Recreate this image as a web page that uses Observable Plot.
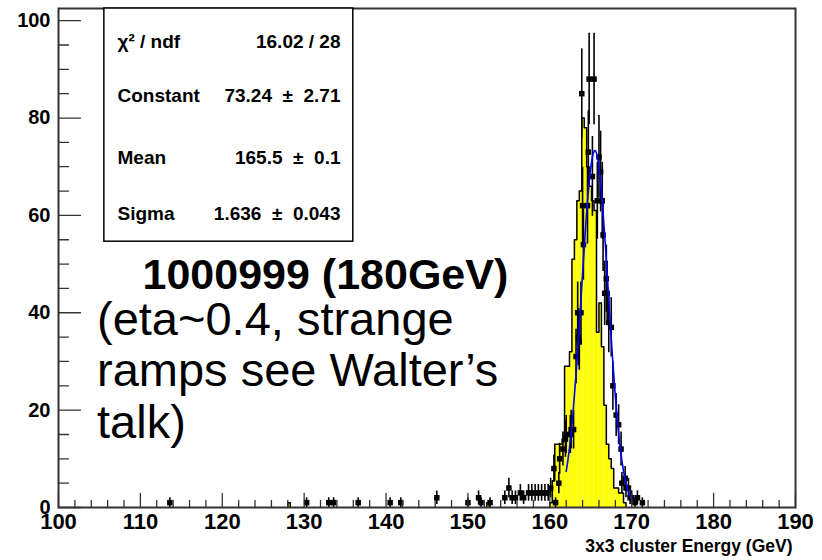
<!DOCTYPE html>
<html>
<head>
<meta charset="utf-8">
<script src="https://cdn.jsdelivr.net/npm/d3@7"></script>
<script src="https://cdn.jsdelivr.net/npm/@observablehq/plot@0.6"></script>
<style>
  html, body { margin: 0; padding: 0; background: #ffffff; }
  #chart svg { display: block; }
</style>
</head>
<body>
<div id="chart"></div>
<script>
// ---------------- data ----------------
// axis ticks
const xTicksMajor = [100, 110, 120, 130, 140, 150, 160, 170, 180, 190];
const yTicksMajor = [0, 20, 40, 60, 80, 100];

// reference histogram (yellow), bin lower edges and contents
const yellowBinWidth = 0.3;
const yellowLo = [128.0, 152.3, 160.0, 160.3, 160.6, 160.9, 161.2, 161.5, 161.8, 162.1, 162.4, 162.7,
  163.0, 163.3, 163.6, 163.9, 164.2, 164.5, 164.8, 165.1, 165.4, 165.7, 166.0, 166.3, 166.6, 166.9,
  167.2, 167.5, 167.8, 168.1, 168.4, 168.7, 169.0];
const yellowCounts = [1, 1, 1, 5.5, 13, 13, 13, 14, 29, 29, 32, 51,
  55, 63, 65, 80, 78, 70, 66, 63, 61, 36, 42, 33, 21, 13,
  10, 8, 4, 4, 3, 3, 1];

// data points (black) with errors
const dataX = [113.6, 130.3, 133.0, 133.6, 136.6, 140.5, 141.8, 146.2, 150.0, 151.3, 151.6, 152.7,
  154.5, 155.0, 155.4, 155.8, 156.4, 156.8, 157.4, 157.8, 158.2, 158.6, 159.0, 159.4, 159.8, 160.1,
  160.5, 160.7, 161.1, 161.2, 161.6, 161.9, 162.0, 162.5, 162.6, 162.9,
  163.2, 163.4, 163.5, 163.6, 163.8, 163.9, 164.0, 164.1,
  164.6, 164.7, 164.8, 165.2, 165.4, 165.8, 166.0, 166.2, 166.4, 166.5, 166.7, 166.9, 167.0, 167.2,
  167.5, 167.7, 168.1, 168.4, 168.7, 168.8, 169.2, 169.3, 169.6, 169.8, 170.0, 170.4, 170.7, 171.3];
const dataY = [1, 1, 1, 1, 1, 1, 1, 2, 1, 2, 1, 1,
  2, 4, 2, 2, 3, 2, 3, 3, 3, 3, 3, 3, 3, 4,
  8, 1, 5, 10, 12, 14, 15, 15, 16, 16,
  31, 40, 35, 34, 40, 85, 62, 54,
  62, 73, 88, 68, 88, 63, 72, 69, 63, 56, 44, 47, 44, 38,
  37, 25, 19, 17, 12, 5, 6, 4, 4, 2, 2, 1, 2, 1];
const dataErr = [1, 1, 1, 1, 1, 1, 1, 1.4, 1, 1.4, 1, 1,
  1.4, 2, 1.4, 1.4, 1.7, 1.4, 1.7, 1.7, 1.7, 1.7, 1.7, 1.7, 1.7, 2,
  2.8, 1, 2.2, 3.2, 3.5, 3.7, 3.9, 3.9, 4, 4,
  5.6, 6.3, 5.9, 5.8, 6.3, 9.2, 7.9, 7.3,
  7.9, 8.5, 9.4, 8.2, 9.4, 7.9, 8.5, 8.3, 7.9, 7.5, 6.6, 6.9, 6.6, 6.2,
  6.1, 5, 4.4, 4.1, 3.5, 2.2, 2.4, 2, 2, 1.4, 1.4, 1, 1.4, 1];

// gaussian fit curve (blue)
const fitX = [162.0, 162.4, 162.8, 163.2, 163.6, 164.0, 164.4, 164.8, 165.2, 165.6, 166.0,
  166.4, 166.8, 167.2, 167.6, 168.0, 168.4, 168.8, 169.2, 169.6, 170.0];
const fitY = [7.4, 12.2, 18.8, 27.3, 37.3, 48.1, 58.4, 66.8, 72.0, 73.2, 69.9,
  63.0, 53.4, 42.7, 32.1, 22.8, 15.2, 9.6, 5.7, 3.2, 1.7];

// texts
const statLabels = ["χ² / ndf", "Constant", "Mean", "Sigma"];
const statValues = ["16.02 / 28", "73.24\u2007±\u20072.71", "165.5\u2007±\u20070.1", "1.636\u2007±\u20070.043"];
const titleText = "1000999 (180GeV)";
const noteLines = ["(eta~0.4, strange", "ramps see Walter’s", "talk)"];
const xLabel = "3x3 cluster Energy (GeV)";

// ---------------- build ----------------
const FONT = "'Liberation Sans', Arial, Helvetica, sans-serif";
const xTicksMinor = d3.range(100, 190.001, 2).filter(v => v % 10 !== 0);
const yTicksMinor = d3.range(0, 100.001, 5).filter(v => v % 20 !== 0);

const yellow = yellowLo.map((lo, i) => ({lo, hi: lo + yellowBinWidth, c: yellowCounts[i]}));
// outline path points, grouped by contiguous runs
const outline = [];
let g = 0;
yellow.forEach((b, i) => {
  if (i > 0 && Math.abs(b.lo - yellow[i - 1].hi) > 1e-6) {
    outline.push({x: yellow[i - 1].hi, y: 0, g});
    g++;
  }
  if (i === 0 || Math.abs(b.lo - yellow[i - 1].hi) > 1e-6) outline.push({x: b.lo, y: 0, g});
  outline.push({x: b.lo, y: b.c, g});
});
outline.push({x: yellow[yellow.length - 1].hi, y: 0, g});

const points = dataX.map((x, i) => ({x, y: dataY[i], e: dataErr[i]}));
const fit = fitX.map((x, i) => ({x, y: fitY[i]}));

const tickShape = {draw(context, l) { context.moveTo(0, 0); context.lineTo(0, -l); }};
const tickStyle = {stroke: "#333", strokeWidth: 1.3, anchor: "start", shape: tickShape};

const statDy = [39.5, 93.5, 155, 211];
const statMarks = [];
statLabels.forEach((t, i) => {
  statMarks.push(Plot.text([t], {frameAnchor: "top-left", dx: 59, dy: statDy[i], lineAnchor: "bottom",
    textAnchor: "start", fontSize: 19, fontWeight: "bold", fill: "black"}));
  statMarks.push(Plot.text([statValues[i]], {frameAnchor: "top-left", dx: 282, dy: statDy[i], lineAnchor: "bottom",
    textAnchor: "end", fontSize: 19, fontWeight: "bold", fill: "black"}));
});

const noteDy = [326, 377.5, 429];
const noteMarks = noteLines.map((t, i) => Plot.text([t], {frameAnchor: "top-left", dx: 38.5, dy: noteDy[i],
  lineAnchor: "bottom", textAnchor: "start", fontSize: 47, fill: "black"}));

const chart = Plot.plot({
  width: 822,
  height: 560,
  marginLeft: 58,
  marginRight: 27,
  marginTop: 8,
  marginBottom: 53,
  style: {fontFamily: FONT, background: "#ffffff", color: "black"},
  x: {domain: [100, 190], axis: null},
  y: {domain: [0, 102.5], axis: null},
  marks: [
    // yellow reference histogram
    Plot.rectY(yellow, {x1: "lo", x2: "hi", y1: 0, y2: "c", fill: "#ffff00"}),
    Plot.line(outline, {x: "x", y: "y", z: "g", curve: "step-after", stroke: "black", strokeWidth: 1.5}),
    // data points with error bars
    Plot.ruleX(points, {x: "x", y1: d => Math.max(0, d.y - d.e), y2: d => d.y + d.e, stroke: "black", strokeWidth: 1.6}),
    Plot.dot(points, {x: "x", y: "y", symbol: "square", r: 3.1, fill: "black", stroke: null}),
    // gaussian fit
    Plot.line(fit, {x: "x", y: "y", curve: "natural", stroke: "#0000ff", strokeWidth: 1.6}),
    // frame
    Plot.frame({stroke: "#333", strokeWidth: 2}),
    // inward ticks
    Plot.vector(xTicksMajor, {x: d => d, y: 0, length: 14, rotate: 0, ...tickStyle}),
    Plot.vector(xTicksMinor, {x: d => d, y: 0, length: 7, rotate: 0, ...tickStyle}),
    Plot.vector(yTicksMajor, {x: 100, y: d => d, length: 22, rotate: 90, ...tickStyle}),
    Plot.vector(yTicksMinor, {x: 100, y: d => d, length: 10, rotate: 90, ...tickStyle}),
    // axes labels
    Plot.axisX({ticks: xTicksMajor, tickSize: 0, tickPadding: 6, fontSize: 22, fontWeight: "bold",
      tickFormat: d => String(d), label: null}),
    Plot.axisY({ticks: yTicksMajor, tickSize: 0, tickPadding: 8, fontSize: 20, fontWeight: "bold",
      tickFormat: d => String(d), label: null}),
    Plot.text([xLabel], {frameAnchor: "bottom-right", dx: -3, dy: 44, lineAnchor: "bottom", textAnchor: "end",
      fontSize: 17.5, fontWeight: "bold", fill: "black"}),
    // statistics box
    Plot.rect([0], {x1: 105.6, x2: 136.0, y1: 54.6, y2: 102.5, fill: "white", stroke: "black", strokeWidth: 1.5}),
    ...statMarks,
    // annotations
    Plot.text([titleText], {frameAnchor: "top-left", dx: 84, dy: 280, lineAnchor: "bottom", textAnchor: "start",
      fontSize: 43, fontWeight: "bold", fill: "black"}),
    ...noteMarks
  ]
});
document.getElementById("chart").appendChild(chart);
</script>
</body>
</html>
